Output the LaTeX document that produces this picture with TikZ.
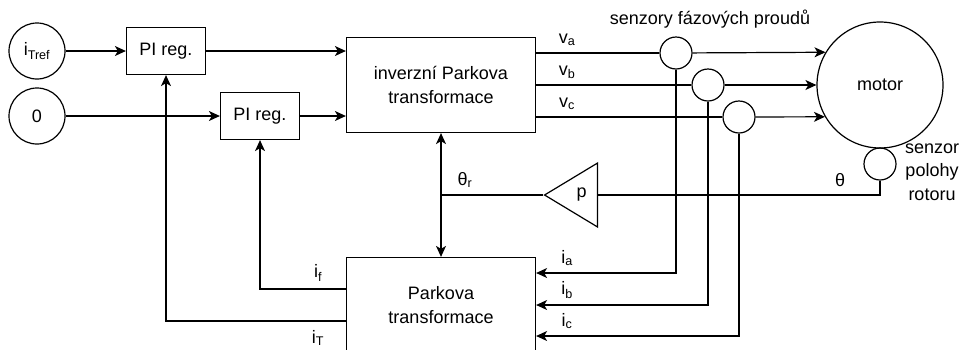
\documentclass[tikz,border=0pt]{standalone}
\usepackage{fontspec}
\setmainfont{Liberation Sans}
\usetikzlibrary{arrows.meta,shapes.geometric}
\begin{document}
\begin{tikzpicture}[x=1pt,y=-1pt,line width=1.2pt,
  >={Stealth[length=11pt,width=10pt,inset=3pt]},
  every node/.style={font=\fontsize{18}{23.5}\selectfont},
  blok/.style={draw,rectangle,minimum width=79,minimum height=47,inner sep=0},
  velky/.style={draw,rectangle,minimum width=189,minimum height=95,align=center,inner sep=0},
  kruh/.style={draw,circle,inner sep=0,minimum size=#1}, kruh/.default=32,
  zesil/.style={draw,isosceles triangle,isosceles triangle stretches,shape border rotate=180,
    minimum width=64,minimum height=53,inner sep=0}]
\useasboundingbox (0,0) rectangle (965,349);
\clip (0,0) rectangle (965,349);
% Regulators
\node[kruh=56] (tref) at (37,51) {i\textsubscript{Tref}};
\node[kruh=56] (nula) at (37,116) {0};
\node[blok] (pi1) at (166,51) {PI reg.};
\node[blok] (pi2) at (260,116) {PI reg.};
\draw[->] (tref) -- (pi1);
\draw[->] (nula) -- (pi2);
% Transformations
\node[velky] (inv) at (441,85) {inverzní Parkova\\transformace};
\node[velky] (park) at (441,305) {Parkova\\transformace};
\draw[->] (pi1) -- (pi1 -| inv.west);
\draw[->] (pi2) -- (pi2 -| inv.west);
% Motor and sensors
\node[kruh=126] (motor) at (880,85) {motor};
\node[kruh] (sa) at (676,53) {};
\node[kruh] (sb) at (708,85) {};
\node[kruh] (sc) at (739,117) {};
\node[kruh] (rot) at (880,164) {};
\node (senz) at (710,19) {senzory fázových proudů};
\node[align=center] (poloha) at (932,172) {senzor\\polohy\\rotoru};
\draw (inv.east |- sa) -- (sa); \draw (inv.east |- sb) -- (sb); \draw (inv.east |- sc) -- (sc);
\draw[->] (sa) -- (motor.149.5); \draw[->] (sb) -- (motor.180); \draw[->] (sc) -- (motor.210.5);
\node (lva) at (567,40) {v\textsubscript{a}};
\node (lvb) at (567,72) {v\textsubscript{b}};
\node (lvc) at (567,104) {v\textsubscript{c}};
% Currents back
\draw[->] (sa) |- ([yshift=32pt]park.east);
\draw[->] (sb) |- (park.east);
\draw[->] (sc) |- ([yshift=-31pt]park.east);
\node (lia) at (567,258) {i\textsubscript{a}};
\node (lib) at (567,290) {i\textsubscript{b}};
\node (lic) at (567,321) {i\textsubscript{c}};
% Rotor angle
\node[zesil,anchor=apex] (gain) at (543,195) {p};
\draw (rot) |- (gain.lower side);
\draw (gain.apex) -- (gain.apex -| inv.south);
\draw[<->] (inv) -- (park);
\node (lth) at (840,180) {θ};
\node (lthr) at (465,180) {θ\textsubscript{r}};
% Feedback to regulators
\draw[->] ([yshift=16pt]park.west) -| (pi2);
\draw[->] ([yshift=-16pt]park.west) -| (pi1);
\node (lif) at (318,273) {i\textsubscript{f}};
\node (liT) at (318,338) {i\textsubscript{T}};
\end{tikzpicture}
\end{document}
